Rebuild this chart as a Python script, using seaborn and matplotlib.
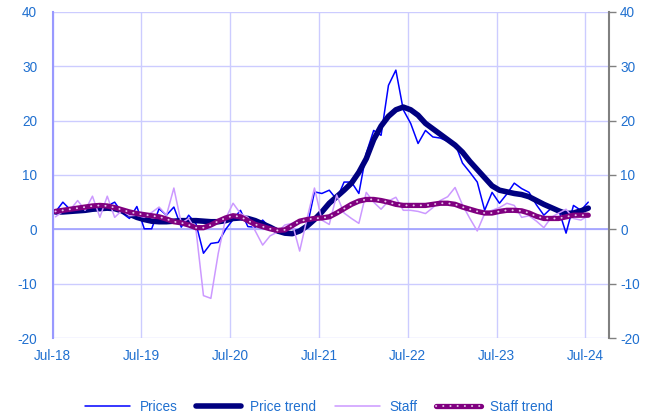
import matplotlib
matplotlib.use("Agg")
import matplotlib.pyplot as plt
from matplotlib.legend_handler import HandlerTuple
import numpy as np
import pandas as pd
import seaborn as sns

# monthly values, Jul-18 .. Jul-24
prices = [3.2, 5.0, 3.6, 3.3, 3.4, 3.7, 3.9, 4.3, 5.0, 3.0,
          2.0, 4.2, 0.1, 0.1, 3.8, 2.6, 4.1, 0.4, 2.6, 1.0,
          -4.4, -2.6, -2.4, 0.0, 1.8, 3.5, 0.5, 0.4, 1.7, 0.3,
          0.0, -0.7, -0.6, -0.2, 0.4, 6.9, 6.6, 7.2, 5.5, 8.7,
          8.7, 6.6, 14.0, 18.2, 17.3, 26.5, 29.3, 22.0, 19.5, 15.8,
          18.2, 17.0, 16.8, 16.2, 15.8, 12.2, 10.5, 8.7, 3.5, 6.8,
          4.8, 6.5, 8.5, 7.5, 6.8, 4.5, 2.6, 3.9, 3.6, -0.7,
          4.4, 3.5, 5.0]
price_trend = [3.2, 3.2, 3.3, 3.4, 3.5, 3.7, 3.8, 3.9, 3.8, 3.4,
               2.8, 2.2, 1.8, 1.5, 1.4, 1.4, 1.5, 1.6, 1.6, 1.6,
               1.5, 1.4, 1.4, 1.6, 2.0, 2.1, 2.0, 1.6, 1.0, 0.4,
               -0.3, -0.7, -0.8, -0.3, 0.6, 1.8, 3.2, 4.8, 6.0, 7.2,
               8.5, 10.5, 13.0, 16.5, 19.0, 20.8, 22.0, 22.5, 22.0, 21.0,
               19.5, 18.5, 17.5, 16.5, 15.5, 14.2, 12.5, 11.0, 9.5, 8.0,
               7.2, 6.9, 6.6, 6.4, 6.0, 5.3, 4.6, 4.0, 3.4, 2.9,
               3.0, 3.4, 3.9]
staff = [2.3, 3.3, 3.6, 5.3, 3.5, 6.1, 2.2, 6.1, 2.2, 3.5,
         2.5, 2.6, 2.2, 3.1, 4.1, 2.6, 7.6, 1.1, 2.0, -0.2,
         -12.2, -12.7, -4.4, 2.0, 4.8, 2.9, 2.2, -0.3, -2.9, -1.2,
         -0.5, 0.8, 1.1, -4.0, 2.0, 7.6, 1.7, 0.9, 6.3, 3.0,
         2.0, 1.1, 6.8, 5.0, 3.7, 5.2, 5.9, 3.5, 3.5, 3.3,
         2.9, 4.0, 5.3, 6.0, 7.7, 4.5, 2.0, -0.3, 2.9, 3.5,
         4.0, 4.8, 4.4, 2.2, 2.5, 1.5, 0.3, 2.2, 3.0, 3.7,
         2.0, 1.7, 2.5]
staff_trend = [3.3, 3.5, 3.7, 3.9, 4.1, 4.3, 4.4, 4.3, 4.0, 3.6,
               3.2, 2.9, 2.7, 2.5, 2.3, 1.9, 1.4, 1.2, 0.8, 0.3,
               0.3, 0.8, 1.5, 2.1, 2.5, 2.3, 1.6, 0.9, 0.5, 0.1,
               -0.2, -0.1, 0.7, 1.5, 1.8, 2.0, 2.1, 2.3, 3.0, 3.8,
               4.6, 5.2, 5.5, 5.5, 5.3, 5.0, 4.6, 4.4, 4.4, 4.4,
               4.4, 4.6, 4.8, 4.8, 4.6, 4.1, 3.7, 3.3, 3.0, 3.0,
               3.3, 3.5, 3.5, 3.4, 3.0, 2.4, 2.0, 2.0, 2.0, 2.3,
               2.6, 2.6, 2.6]
tick_labels = ["Jul-18", "Jul-19", "Jul-20", "Jul-21", "Jul-22", "Jul-23", "Jul-24"]

df = pd.DataFrame({"month": np.arange(len(prices)) + 0.4,
                   "Prices": prices, "Price trend": price_trend,
                   "Staff": staff, "Staff trend": staff_trend})

sns.set_style("white")
plt.rcParams["font.family"] = ["Liberation Sans", "DejaVu Sans"]
plt.rcParams["axes.unicode_minus"] = False
txt = "#2070D0"

fig = plt.figure(figsize=(6.58, 4.19), dpi=100)
ax = fig.add_axes([0.0798, 0.1933, 0.8457, 0.7781])

# grid
for v in range(-20, 41, 10):
    ax.axhline(v, color="#CCCCFF", lw=1.0, zorder=0)
for m in range(0, 73, 12):
    ax.axvline(m, color="#CCCCFF", lw=1.0, zorder=0)
ax.axhline(0, color="#A0A0FF", lw=1.2, zorder=0.5)

l1 = sns.lineplot(data=df, x="month", y="Prices", ax=ax, color="#0000FF", lw=1.1).lines[-1]
l2 = sns.lineplot(data=df, x="month", y="Price trend", ax=ax, color="#000080", lw=4.0,
                  solid_capstyle="round").lines[-1]
l3 = sns.lineplot(data=df, x="month", y="Staff", ax=ax, color="#CC99FF", lw=1.1).lines[-1]
l4 = sns.lineplot(data=df, x="month", y="Staff trend", ax=ax, color="#800080", lw=3.8,
                  solid_capstyle="round").lines[-1]
l5, = ax.plot(df["month"], df["Staff trend"], color="#E8C8E8", lw=1.4,
              linestyle=(0, (0.1, 3.6)), dash_capstyle="round")

ax.set_xlim(0, 75.2)
ax.set_ylim(-20, 40)
ax.set_xticks(range(0, 73, 12))
ax.set_xticklabels(tick_labels)
ax.set_yticks(range(-20, 41, 10))
ax.set_xlabel("")
ax.set_ylabel("")
ax.tick_params(axis="x", length=0, pad=8, labelsize=9.8, labelcolor=txt)
ax.tick_params(axis="y", length=0, pad=11, labelsize=9.8, labelcolor=txt)
for s in ["top", "bottom", "right"]:
    ax.spines[s].set_visible(False)
ax.spines["left"].set_color("#9999FF")
ax.spines["left"].set_linewidth(1.5)

ax2 = ax.twinx()
ax2.set_ylim(-20, 40)
ax2.set_yticks(range(-20, 41, 10))
ax2.tick_params(axis="y", length=5, width=1, color="#808080", pad=3,
                labelsize=9.8, labelcolor=txt)
for s in ["top", "bottom", "left"]:
    ax2.spines[s].set_visible(False)
ax2.spines["right"].set_color("#808080")
ax2.spines["right"].set_linewidth(1.5)

fig.legend([l1, l2, l3, (l4, l5)], ["Prices", "Price trend", "Staff", "Staff trend"],
           handler_map={tuple: HandlerTuple(ndivide=1)},
           loc="center", bbox_to_anchor=(0.485, 0.029), ncol=4, frameon=False,
           fontsize=9.8, handlelength=3.3, handletextpad=0.7, columnspacing=1.35,
           labelcolor=txt)

fig.savefig("out.png", dpi=100)
